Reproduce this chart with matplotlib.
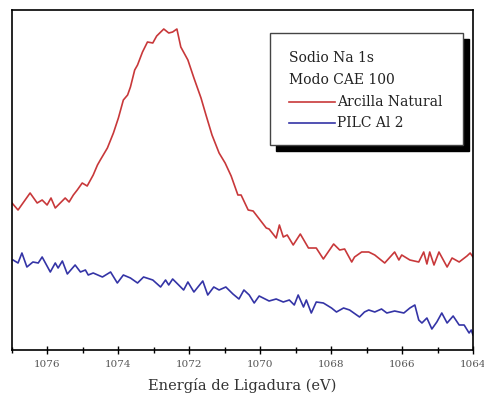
import matplotlib.pyplot as plt
from matplotlib.patches import Rectangle
from matplotlib.lines import Line2D
from matplotlib.ticker import MultipleLocator

# Na 1s spectra (binding energy in eV, intensity in arbitrary units)
energy_natural = [1077.00, 1076.83, 1076.49, 1076.29, 1076.15, 1076.01, 1075.90, 1075.78,
                  1075.64, 1075.50, 1075.39, 1075.27, 1075.16, 1075.02, 1074.88, 1074.71,
                  1074.59, 1074.51, 1074.31, 1074.14, 1074.00, 1073.86, 1073.74, 1073.66,
                  1073.54, 1073.46, 1073.32, 1073.18, 1073.03, 1072.92, 1072.72, 1072.58,
                  1072.47, 1072.35, 1072.24, 1072.04, 1071.87, 1071.67, 1071.53, 1071.36,
                  1071.16, 1070.99, 1070.82, 1070.63, 1070.54, 1070.34, 1070.20, 1069.83,
                  1069.75, 1069.55, 1069.46, 1069.35, 1069.24, 1069.07, 1068.87, 1068.64,
                  1068.42, 1068.22, 1067.93, 1067.76, 1067.62, 1067.42, 1067.34, 1067.14,
                  1066.94, 1066.77, 1066.49, 1066.21, 1066.09, 1066.01, 1065.78, 1065.53,
                  1065.39, 1065.30, 1065.22, 1065.10, 1064.96, 1064.73, 1064.59, 1064.39,
                  1064.17, 1064.08, 1064.00]
intensity_natural = [147, 140, 157, 147, 150, 145, 152, 142,
                     147, 152, 148, 155, 160, 167, 164, 175,
                     185, 190, 202, 217, 232, 250, 255, 263,
                     280, 285, 298, 308, 307, 314, 321, 317,
                     318, 321, 303, 290, 272, 252, 235, 215,
                     197, 187, 174, 155, 155, 140, 139, 122,
                     121, 112, 125, 113, 115, 105, 116, 102,
                     102, 91, 106, 100, 101, 88, 93, 98,
                     98, 95, 87, 98, 90, 95, 90, 88,
                     98, 86, 98, 85, 98, 83, 92, 88,
                     94, 97, 93]

energy_pilc = [1076.97, 1076.83, 1076.72, 1076.58, 1076.41, 1076.26, 1076.15, 1075.92,
               1075.78, 1075.70, 1075.58, 1075.44, 1075.22, 1075.07, 1074.93, 1074.85,
               1074.71, 1074.45, 1074.22, 1074.03, 1073.86, 1073.66, 1073.46, 1073.29,
               1073.03, 1072.81, 1072.67, 1072.58, 1072.47, 1072.30, 1072.16, 1072.04,
               1071.87, 1071.62, 1071.48, 1071.31, 1071.16, 1070.97, 1070.77, 1070.60,
               1070.46, 1070.31, 1070.17, 1070.03, 1069.75, 1069.55, 1069.35, 1069.18,
               1069.04, 1068.93, 1068.78, 1068.70, 1068.56, 1068.42, 1068.22, 1067.99,
               1067.85, 1067.65, 1067.48, 1067.20, 1067.06, 1066.94, 1066.77, 1066.58,
               1066.43, 1066.21, 1065.95, 1065.78, 1065.64, 1065.53, 1065.44, 1065.30,
               1065.16, 1065.02, 1064.88, 1064.73, 1064.56, 1064.39, 1064.25, 1064.11,
               1064.05, 1064.00]
intensity_pilc = [90, 87, 97, 83, 88, 87, 93, 78,
                  87, 82, 89, 76, 85, 78, 80, 75,
                  77, 73, 78, 67, 75, 72, 67, 73,
                  70, 63, 70, 65, 71, 65, 60, 68,
                  58, 69, 55, 63, 60, 63, 56, 51,
                  60, 55, 47, 54, 49, 51, 48, 50,
                  45, 55, 43, 50, 37, 48, 47, 42,
                  38, 42, 40, 33, 38, 40, 38, 41,
                  37, 39, 37, 42, 45, 30, 27, 32,
                  21, 28, 37, 27, 34, 25, 25, 17,
                  20, 15]

legend_title = ["Sodio Na 1s", "Modo CAE 100"]
series_labels = ["Arcilla Natural", "PILC Al 2"]
series_colors = ["#c8383a", "#3434a6"]

plt.rcParams["font.family"] = ["DejaVu Serif"]

fig = plt.figure(figsize=(4.85, 4.0), dpi=100)
ax = fig.add_axes([12 / 485, 50 / 400, 461 / 485, 340 / 400])

ax.plot(energy_natural, intensity_natural, color=series_colors[0], lw=1.2)
ax.plot(energy_pilc, intensity_pilc, color=series_colors[1], lw=1.2)

ax.set_xlim(1077, 1064)
ax.set_ylim(0, 340)
ax.set_yticks([])
ax.xaxis.set_major_locator(MultipleLocator(2))
ax.xaxis.set_minor_locator(MultipleLocator(1))
ax.tick_params(axis="x", which="major", direction="inout", length=6, width=1,
               labelsize=7.5, labelcolor="#555555", pad=4)
ax.tick_params(axis="x", which="minor", direction="inout", length=4, width=1)
for s in ax.spines.values():
    s.set_linewidth(1.2)

ax.set_xlabel("Energía de Ligadura (eV)", fontsize=10.5, color="#333333", labelpad=7)

# legend box with a hard black drop shadow
x0, x1, y0, y1 = 0.56, 0.978, 0.603, 0.932
ax.add_patch(Rectangle((x0 + 0.013, y0 - 0.018), x1 - x0, y1 - y0, transform=ax.transAxes,
                       facecolor="black", edgecolor="black", zorder=5))
ax.add_patch(Rectangle((x0, y0), x1 - x0, y1 - y0, transform=ax.transAxes,
                       facecolor="white", edgecolor="#444444", lw=1.0, zorder=6))
ax.text(0.601, 0.859, legend_title[0], transform=ax.transAxes, fontsize=10,
        va="center", ha="left", color="#222222", zorder=7)
ax.text(0.601, 0.794, legend_title[1], transform=ax.transAxes, fontsize=10,
        va="center", ha="left", color="#222222", zorder=7)
for yy, lab, col in zip([0.729, 0.668], series_labels, series_colors):
    ax.add_line(Line2D([0.601, 0.701], [yy, yy], transform=ax.transAxes,
                       color=col, lw=1.2, zorder=7))
    ax.text(0.705, yy, lab, transform=ax.transAxes, fontsize=10,
            va="center", ha="left", color="#222222", zorder=7)

fig.savefig("out.png", dpi=100)
